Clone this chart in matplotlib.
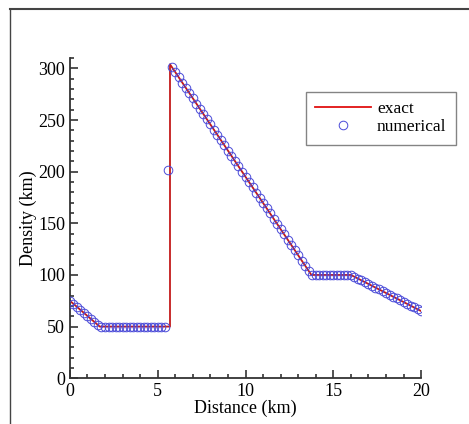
import numpy as np
import matplotlib
matplotlib.use('Agg')
import matplotlib.pyplot as plt
from matplotlib.lines import Line2D
from matplotlib.ticker import MultipleLocator

plt.rcParams['font.family'] = ['Liberation Serif', 'DejaVu Serif']

# exact solution (piecewise linear)
exact_x = [0, 1.7, 5.7, 5.7, 13.75, 16, 20]
exact_y = [75, 50, 50, 304, 100, 100, 65]

# numerical solution, dx = 0.2
num_x = np.round(np.arange(0, 20.01, 0.2), 2)
num_y = [75, 72.1, 69.1, 66.2, 63.2, 60.3, 57.4, 54.4, 51.5, 50,
         50, 50, 50, 50, 50, 50, 50, 50, 50, 50,
         50, 50, 50, 50, 50, 50, 50, 50, 202, 301.5,
         296.4, 291.3, 286.3, 281.2, 276.1, 271.1, 266.0, 260.9, 255.9, 250.8,
         245.7, 240.7, 235.6, 230.5, 225.5, 220.4, 215.3, 210.3, 205.2, 200.1,
         195.0, 190.0, 184.9, 179.8, 174.8, 169.7, 164.6, 159.6, 154.5, 149.4,
         144.4, 139.3, 134.2, 129.2, 124.1, 119.0, 113.9, 108.9, 103.8, 100,
         100, 100, 100, 100, 100, 100, 100, 100, 100, 100,
         100, 98.25, 96.5, 94.75, 93.0, 91.25, 89.5, 87.75, 86.0, 84.25,
         82.5, 80.75, 79.0, 77.25, 75.5, 73.75, 72.0, 70.25, 68.5, 66.75,
         65]

fig = plt.figure(figsize=(4.69, 4.24), dpi=100)
ax = fig.add_axes([0.149, 0.108, 0.749, 0.755])

ax.plot(exact_x, exact_y, color='#c41a1a', lw=1.3, label='exact', zorder=2)
ax.plot(num_x, num_y, 'o', mfc='none', mec='#4a4ad8', mew=0.7, ms=6.2,
        label='numerical', zorder=3)

ax.set_xlim(0, 20)
ax.set_ylim(0, 310)
ax.xaxis.set_major_locator(MultipleLocator(5))
ax.xaxis.set_minor_locator(MultipleLocator(1))
ax.yaxis.set_major_locator(MultipleLocator(50))
ax.yaxis.set_minor_locator(MultipleLocator(10))
ax.tick_params(which='both', direction='in', colors='#333333', labelcolor='black',
               labelsize=13, width=1.2)
ax.tick_params(which='major', length=6)
ax.tick_params(which='minor', length=3)
for s in ['top', 'right']:
    ax.spines[s].set_visible(False)
for s in ['left', 'bottom']:
    ax.spines[s].set_color('#333333')
    ax.spines[s].set_linewidth(1.3)

ax.set_xlabel('Distance (km)', fontsize=13, labelpad=0)
ax.set_ylabel('Density (km)', fontsize=13, labelpad=1)

leg = ax.legend(loc='upper left', bbox_to_anchor=(305.7 / 469, 1 - 91.7 / 424),
                bbox_transform=fig.transFigure, fontsize=12.5, frameon=True,
                fancybox=False, edgecolor='#666666', handlelength=3.2,
                labelspacing=0.1, borderpad=0.55, handletextpad=0.35,
                borderaxespad=0)
leg.get_frame().set_linewidth(1.0)
leg.get_lines()[0].set_color('#e01010')

# outer frame
fig.add_artist(Line2D([9.5 / 469, 9.5 / 469], [0, 1 - 8.5 / 424], color='#444444',
                      lw=1.0, transform=fig.transFigure))
fig.add_artist(Line2D([9.5 / 469, 1], [1 - 8.5 / 424, 1 - 8.5 / 424], color='#444444',
                      lw=1.5, transform=fig.transFigure))

fig.savefig('out.png', dpi=100)
